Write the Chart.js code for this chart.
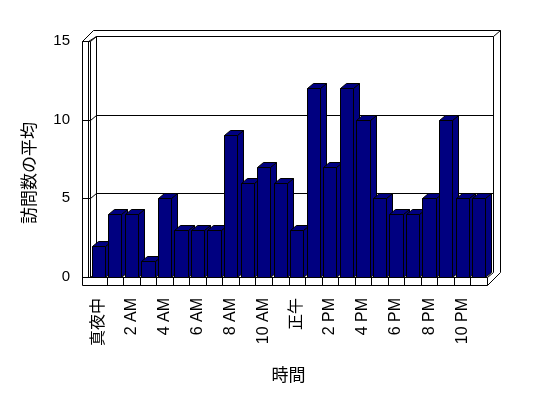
<!DOCTYPE html>
<html>
<head>
<meta charset="utf-8">
<script src="https://cdn.jsdelivr.net/npm/chart.js@4.4.0/dist/chart.umd.min.js"></script>
<style>
  body { margin: 0; background: #fff; }
  #wrap { width: 548px; height: 398px; }
</style>
</head>
<body>
<div id="wrap"><canvas id="visitChart"></canvas></div>
<script>
// hour categories (every other one is labelled on the axis)
const hours = [
    '真夜中', '1 AM', '2 AM', '3 AM', '4 AM', '5 AM',
    '6 AM', '7 AM', '8 AM', '9 AM', '10 AM', '11 AM',
    '正午', '1 PM', '2 PM', '3 PM', '4 PM', '5 PM',
    '6 PM', '7 PM', '8 PM', '9 PM', '10 PM', '11 PM'
];

// average number of visits per hour
const avgVisits = [2, 4, 4, 1, 5, 3, 3, 3, 9, 6, 7, 6, 3, 12, 7, 12, 10, 5, 4, 4, 5, 10, 5, 5];

const yTicks = [0, 5, 10, 15];

const yTitle = '訪問数の平均';

const barColor = '#000080';
const dx = 6, dy = 5;   // depth of bars / back wall

const px = v => Math.round(v) + 0.5;

function line(ctx, x1, y1, x2, y2) {
    ctx.beginPath();
    ctx.moveTo(px(x1), px(y1));
    ctx.lineTo(px(x2), px(y2));
    ctx.stroke();
}

function poly(ctx, pts, fill) {
    ctx.beginPath();
    pts.forEach((p, i) => i ? ctx.lineTo(px(p[0]), px(p[1])) : ctx.moveTo(px(p[0]), px(p[1])));
    ctx.closePath();
    ctx.fillStyle = fill;
    ctx.fill();
    ctx.stroke();
}

const latin = '"Liberation Sans", "Noto Sans CJK JP", sans-serif';
const cjk = '"Noto Sans CJK JP", sans-serif';

// walls, floor and gridlines
const frame3d = {
    id: 'frame3d',
    beforeDatasetsDraw(chart) {
        const { ctx, chartArea: a, scales: { x, y } } = chart;
        const top = y.getPixelForValue(15), bottom = y.getPixelForValue(0);
        const L = a.left, R = a.right;
        ctx.save();
        ctx.strokeStyle = '#000';
        ctx.lineWidth = 1;

        // back wall, outer edge
        line(ctx, L - 8, top, L + 3, top - 11);
        line(ctx, L + 3, top - 11, R + 13, top - 11);
        line(ctx, R + 13, top - 11, R + 13, bottom - 5);
        line(ctx, R + 13, bottom - 5, R, bottom + 8);
        line(ctx, R + 6, top - 5, R + 13, top - 11);

        // back wall, inner face
        line(ctx, L + dx, top - dy, R + dx, top - dy);
        line(ctx, R + dx, top - dy, R + dx, bottom - dy);
        line(ctx, L + dx, top - dy, L + dx, bottom - dy);
        line(ctx, L - 2, top, L + dx, top - dy);
        line(ctx, R + dx, bottom - dy, R, bottom);

        // left wall
        line(ctx, L - 8, top, L - 2, top);
        line(ctx, L - 8, top, L - 8, bottom + 8);
        line(ctx, L - 2, top, L - 2, bottom);
        line(ctx, L, top, L, bottom);

        // gridlines on back wall + tick marks
        yTicks.forEach(v => {
            const py = y.getPixelForValue(v);
            if (v > 0 && v < 15) line(ctx, L + dx, py - dy, R + dx, py - dy);
            line(ctx, L - 8, py, L, py);
            line(ctx, L, py, L + dx, py - dy);
        });

        // floor front
        line(ctx, L - 8, bottom, R, bottom);
        line(ctx, L - 8, bottom + 8, R, bottom + 8);
        line(ctx, R, bottom, R, bottom + 8);
        for (let i = 1; i < hours.length; i++) {
            const bx = (x.getPixelForValue(i) + x.getPixelForValue(i - 1)) / 2;
            line(ctx, bx, bottom, bx, bottom + 8);
        }
        ctx.restore();
    },
    afterDatasetsDraw(chart) {
        const { ctx } = chart;
        ctx.save();
        ctx.strokeStyle = '#000';
        ctx.lineWidth = 1;
        chart.getDatasetMeta(0).data.forEach(bar => {
            const { x: cx, y: t, base, width } = bar.getProps(['x', 'y', 'base', 'width'], true);
            const l = cx - width / 2, r = cx + width / 2;
            poly(ctx, [[r, t], [r + dx, t - dy], [r + dx, base - dy], [r, base]], barColor);
            poly(ctx, [[l, t], [l + dx, t - dy], [r + dx, t - dy], [r, t]], barColor);
            poly(ctx, [[l, t], [r, t], [r, base], [l, base]], barColor);
        });

        // y axis title, a bit below the middle of the axis
        ctx.translate(29, 173);
        ctx.rotate(-Math.PI / 2);
        ctx.font = '17px ' + cjk;
        ctx.fillStyle = '#000';
        ctx.textAlign = 'center';
        ctx.textBaseline = 'middle';
        ctx.fillText(yTitle, 0, 0);
        ctx.restore();
    }
};

new Chart(document.getElementById('visitChart'), {
    type: 'bar',
    data: {
        labels: hours,
        datasets: [{
            data: avgVisits,
            backgroundColor: 'rgba(0,0,0,0)',
            borderWidth: 0,
            categoryPercentage: 0.8,
            barPercentage: 1.0
        }]
    },
    options: {
        responsive: true,
        maintainAspectRatio: false,
        animation: false,
        layout: {
            padding: { left: 0, right: 61, top: 41, bottom: 0 }
        },
        plugins: {
            legend: { display: false },
            tooltip: { enabled: false }
        },
        scales: {
            x: {
                grid: { display: false, drawTicks: false },
                border: { display: false },
                ticks: {
                    autoSkip: false,
                    maxRotation: 90,
                    minRotation: 90,
                    padding: 21,
                    color: '#000',
                    font: { family: latin, size: 16 },
                    callback: (val, i) => i % 2 === 0 ? hours[i] : ''
                },
                title: {
                    display: true,
                    text: '時間',
                    color: '#000',
                    font: { family: cjk, size: 17 },
                    padding: { top: 0, bottom: 13 }
                },
                afterFit(scale) { scale.height = 121; }
            },
            y: {
                min: 0,
                max: 15,
                grid: { display: false, drawTicks: false },
                border: { display: false },
                ticks: {
                    stepSize: 5,
                    padding: 20,
                    color: '#000',
                    font: { family: latin, size: 15 }
                },
                afterFit(scale) { scale.width = 90; }
            }
        }
    },
    plugins: [frame3d]
});
</script>
</body>
</html>
